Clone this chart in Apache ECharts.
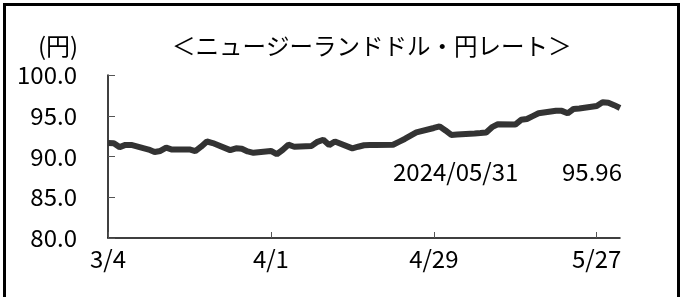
<!DOCTYPE html>
<html>
<head>
<meta charset="utf-8">
<script src="https://cdn.jsdelivr.net/npm/echarts@6/dist/echarts.min.js"></script>
<style>
  html, body { margin: 0; padding: 0; background: #fff; }
  #main { width: 683px; height: 297px; }
</style>
</head>
<body>
<div id="main"></div>
<script>
// NZD/JPY daily rate, 2024/03/04 - 2024/05/31
var dates = [
  '2024-03-04','2024-03-05','2024-03-06','2024-03-07','2024-03-08',
  '2024-03-11','2024-03-12','2024-03-13','2024-03-14','2024-03-15',
  '2024-03-18','2024-03-19','2024-03-20','2024-03-21','2024-03-22',
  '2024-03-25','2024-03-26','2024-03-27','2024-03-28','2024-03-29',
  '2024-04-01','2024-04-02','2024-04-03','2024-04-04','2024-04-05',
  '2024-04-08','2024-04-09','2024-04-10','2024-04-11','2024-04-12',
  '2024-04-15','2024-04-16','2024-04-17','2024-04-18','2024-04-19',
  '2024-04-22','2024-04-23','2024-04-24','2024-04-25','2024-04-26',
  '2024-04-29','2024-04-30','2024-05-01','2024-05-02','2024-05-03',
  '2024-05-06','2024-05-07','2024-05-08','2024-05-09','2024-05-10',
  '2024-05-13','2024-05-14','2024-05-15','2024-05-16','2024-05-17',
  '2024-05-20','2024-05-21','2024-05-22','2024-05-23','2024-05-24',
  '2024-05-27','2024-05-28','2024-05-29','2024-05-30','2024-05-31'
];
var rates = [
  91.66, 91.62, 91.15, 91.42, 91.42,
  90.85, 90.55, 90.68, 91.08, 90.85,
  90.87, 90.65, 91.20, 91.84, 91.65,
  90.78, 91.00, 90.95, 90.62, 90.45,
  90.68, 90.28, 90.80, 91.45, 91.20,
  91.30, 91.80, 92.05, 91.40, 91.85,
  91.00, 91.20, 91.38, 91.40, 91.40,
  91.45, 91.80, 92.15, 92.55, 92.95,
  93.50, 93.70, 93.20, 92.65, 92.70,
  92.82, 92.88, 92.95, 93.60, 93.95,
  93.92, 94.50, 94.60, 94.95, 95.30,
  95.62, 95.60, 95.30, 95.83, 95.90,
  96.20, 96.65, 96.60, 96.30, 95.96
];
var tickDates = ['2024-03-04', '2024-04-01', '2024-04-29', '2024-05-27'];
var yTicks = [80, 85, 90, 95, 100];
var lastLabel = '2024/05/31';
var lastValue = '95.96';

var FONT = '"Noto Sans CJK JP", sans-serif';
var DAY = 86400000;

function t(s) {
  var p = s.split('-');
  return Date.UTC(+p[0], p[1] - 1, +p[2]);
}
// days since first date
function dayOf(s) {
  return Math.round((t(s) - t(dates[0])) / DAY);
}

var seriesData = [];
for (var i = 0; i < dates.length; i++) {
  seriesData.push([dayOf(dates[i]), rates[i]]);
}
var tickDays = tickDates.map(dayOf);

var myChart = echarts.init(document.getElementById('main'));

var option = {
  animation: false,
  grid: { left: 108, right: 63, top: 75, bottom: 59 },
  xAxis: {
    type: 'value',
    min: 0,
    max: dayOf(dates[dates.length - 1]),
    interval: 28,
    splitLine: { show: false },
    axisLine: { lineStyle: { color: '#000', width: 1.5 } },
    axisTick: {
      inside: true, length: 6,
      customValues: tickDays,
      lineStyle: { color: '#555', width: 1 }
    },
    axisLabel: {
      customValues: tickDays,
      hideOverlap: false,
      margin: 9,
      color: '#000',
      fontSize: 24,
      fontFamily: FONT,
      formatter: function (v) {
        var d = new Date(t(dates[0]) + v * DAY);
        return (d.getUTCMonth() + 1) + '/' + d.getUTCDate();
      }
    }
  },
  yAxis: {
    type: 'value',
    min: yTicks[0],
    max: yTicks[yTicks.length - 1],
    interval: 5,
    splitLine: { show: false },
    axisLine: { show: true, lineStyle: { color: '#000', width: 1.5 } },
    axisTick: { show: true, inside: true, length: 7, lineStyle: { color: '#555', width: 1 } },
    axisLabel: {
      margin: 31,
      color: '#000',
      fontSize: 24,
      fontFamily: FONT,
      formatter: function (v) { return v.toFixed(1); }
    }
  },
  series: [{
    type: 'line',
    data: seriesData,
    showSymbol: false,
    lineStyle: { color: '#333', width: 6 }
  }],
  graphic: [
    {
      type: 'rect',
      shape: { x: 4.5, y: 4.5, width: 674, height: 300 },
      style: { fill: 'none', stroke: '#000', lineWidth: 3 }
    },
    {
      type: 'text', left: 38, top: 34,
      style: { text: '(円)', fontSize: 24, fontFamily: FONT, fill: '#000' }
    },
    {
      type: 'text', left: 172, top: 34,
      style: { text: '＜ニュージーランドドル・円レート＞', fontSize: 23.5, fontFamily: FONT, fill: '#000' }
    },
    {
      type: 'text', left: 393, top: 160,
      style: { text: lastLabel, fontSize: 24, fontFamily: FONT, fill: '#000' }
    },
    {
      type: 'text', right: 61, top: 160,
      style: { text: lastValue, fontSize: 24, fontFamily: FONT, fill: '#000' }
    }
  ]
};

myChart.setOption(option);
</script>
</body>
</html>
